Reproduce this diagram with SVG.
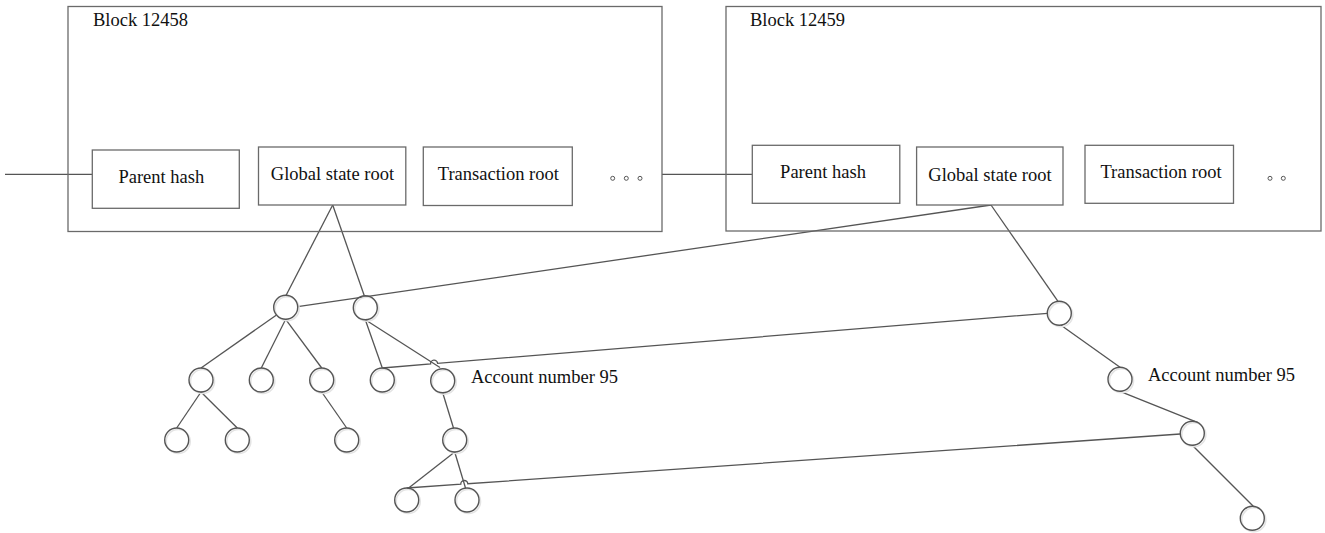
<svg xmlns="http://www.w3.org/2000/svg" width="1325" height="533" viewBox="0 0 1325 533">
  <style>
    .blk { fill: none; stroke: #6a6a6a; stroke-width: 1.3; }
    .fld { fill: #fff; stroke: #6a6a6a; stroke-width: 1.3; }
    .lbl { font-family: "Liberation Serif", "Times New Roman", serif; font-size: 18.5px; fill: #111; }
    .mid { text-anchor: middle; }
    .dot { fill: none; stroke: #555; stroke-width: 1; }
    .nd { fill: none; stroke: #555; stroke-width: 1.4; }
    .sh { fill: none; stroke: #e4e4e4; stroke-width: 1.6; }
    .cn { fill: none; stroke: #555; stroke-width: 1.3; }
  </style>

  <!-- chain links between blocks -->
  <g id="connectors">
    <line class="cn" x1="5" y1="174.3" x2="92.3" y2="174.3"/>
    <line class="cn" x1="662" y1="174.3" x2="752.3" y2="174.3"/>

    <!-- state tree of block 12458 -->
    <line class="cn" x1="332.7" y1="205" x2="286" y2="295.5"/>
    <line class="cn" x1="332.7" y1="205" x2="364.3" y2="295.7"/>
    <line class="cn" x1="276.5" y1="315" x2="201" y2="368"/>
    <line class="cn" x1="285.7" y1="319.3" x2="261.3" y2="368"/>
    <line class="cn" x1="285.7" y1="319.3" x2="321.7" y2="368"/>
    <line class="cn" x1="365.3" y1="319.7" x2="382.3" y2="368"/>
    <line class="cn" x1="365.3" y1="319.7" x2="440" y2="367.5"/>
    <line class="cn" x1="201" y1="392" x2="176.7" y2="428"/>
    <line class="cn" x1="201" y1="392" x2="237.3" y2="428"/>
    <line class="cn" x1="321.7" y1="392" x2="346.7" y2="428"/>
    <line class="cn" x1="442.7" y1="392.7" x2="453.5" y2="428"/>
    <line class="cn" x1="454.7" y1="452" x2="408" y2="488.5"/>
    <line class="cn" x1="454.7" y1="452" x2="465.5" y2="488"/>

    <!-- state tree of block 12459, sharing unchanged subtrees -->
    <line class="cn" x1="297.7" y1="306.7" x2="991" y2="205"/>
    <line class="cn" x1="991" y1="205" x2="1058" y2="301.3"/>
    <path class="cn" d="M382.3 368 L430.6 363.9 A3.5 3.5 0 0 1 437.6 363.3 L1047.5 313.3"/>
    <line class="cn" x1="1061" y1="325.3" x2="1120" y2="367.3"/>
    <line class="cn" x1="1120" y1="391.3" x2="1198" y2="422.7"/>
    <line class="cn" x1="1192.3" y1="445.3" x2="1253.3" y2="506.3"/>
    <path class="cn" d="M406.7 488 L460.8 484.24 A3.5 3.5 0 0 1 467.8 483.76 L1180.3 434"/>
  </g>

  <!-- block 12458 -->
  <g id="block-12458">
    <rect class="blk" x="68" y="6.5" width="594" height="225"/>
    <text class="lbl" x="93" y="26">Block 12458</text>
  </g>
  <g id="parent-hash-1">
    <rect class="fld" x="92.3" y="150" width="147" height="58.3"/>
    <text class="lbl mid" x="161.3" y="183">Parent hash</text>
  </g>
  <g id="global-state-root-1">
    <rect class="fld" x="258.5" y="147" width="147.3" height="58"/>
    <text class="lbl mid" x="332.5" y="180">Global state root</text>
  </g>
  <g id="transaction-root-1">
    <rect class="fld" x="423.3" y="147" width="149" height="58.5"/>
    <text class="lbl mid" x="498.3" y="180">Transaction root</text>
  </g>
  <g id="more-fields-1">
    <circle class="dot" cx="612.7" cy="178.3" r="2"/>
    <circle class="dot" cx="626.3" cy="178.3" r="2"/>
    <circle class="dot" cx="640" cy="178.3" r="2"/>
  </g>

  <!-- block 12459 -->
  <g id="block-12459">
    <rect class="blk" x="726" y="6.5" width="595" height="224.5"/>
    <text class="lbl" x="750" y="26">Block 12459</text>
  </g>
  <g id="parent-hash-2">
    <rect class="fld" x="752.3" y="145.3" width="147.5" height="58"/>
    <text class="lbl mid" x="823" y="178">Parent hash</text>
  </g>
  <g id="global-state-root-2">
    <rect class="fld" x="916.6" y="147" width="146.4" height="58"/>
    <text class="lbl mid" x="990" y="181">Global state root</text>
  </g>
  <g id="transaction-root-2">
    <rect class="fld" x="1085" y="145.3" width="148.5" height="58"/>
    <text class="lbl mid" x="1161" y="178">Transaction root</text>
  </g>
  <g id="more-fields-2">
    <circle class="dot" cx="1270" cy="178.3" r="2"/>
    <circle class="dot" cx="1283.3" cy="178.3" r="2"/>
  </g>

  <!-- tree nodes, block 12458 -->
  <g id="node-a"><circle class="sh" cx="287.2" cy="308.8" r="12"/><circle class="nd" cx="285.7" cy="307.3" r="12"/></g>
  <g id="node-b"><circle class="sh" cx="366.8" cy="309.2" r="12"/><circle class="nd" cx="365.3" cy="307.7" r="12"/></g>
  <g id="node-n1"><circle class="sh" cx="202.5" cy="381.5" r="12"/><circle class="nd" cx="201" cy="380" r="12"/></g>
  <g id="node-n2"><circle class="sh" cx="262.8" cy="381.5" r="12"/><circle class="nd" cx="261.3" cy="380" r="12"/></g>
  <g id="node-n3"><circle class="sh" cx="323.2" cy="381.5" r="12"/><circle class="nd" cx="321.7" cy="380" r="12"/></g>
  <g id="node-n4"><circle class="sh" cx="383.8" cy="381.5" r="12"/><circle class="nd" cx="382.3" cy="380" r="12"/></g>
  <g id="node-n5">
    <circle class="sh" cx="444.2" cy="382.2" r="12"/><circle class="nd" cx="442.7" cy="380.7" r="12"/>
    <text class="lbl" x="471" y="383">Account number 95</text>
  </g>
  <g id="node-m1"><circle class="sh" cx="178.2" cy="441.5" r="12"/><circle class="nd" cx="176.7" cy="440" r="12"/></g>
  <g id="node-m2"><circle class="sh" cx="238.8" cy="441.5" r="12"/><circle class="nd" cx="237.3" cy="440" r="12"/></g>
  <g id="node-m3"><circle class="sh" cx="348.2" cy="441.5" r="12"/><circle class="nd" cx="346.7" cy="440" r="12"/></g>
  <g id="node-m4"><circle class="sh" cx="456.2" cy="441.5" r="12"/><circle class="nd" cx="454.7" cy="440" r="12"/></g>
  <g id="node-k1"><circle class="sh" cx="408.2" cy="501.5" r="12"/><circle class="nd" cx="406.7" cy="500" r="12"/></g>
  <g id="node-k2"><circle class="sh" cx="468.5" cy="501.5" r="12"/><circle class="nd" cx="467" cy="500" r="12"/></g>

  <!-- tree nodes, block 12459 -->
  <g id="node-r1"><circle class="sh" cx="1060.8" cy="314.8" r="12"/><circle class="nd" cx="1059.3" cy="313.3" r="12"/></g>
  <g id="node-r2">
    <circle class="sh" cx="1121.5" cy="380.8" r="12"/><circle class="nd" cx="1120" cy="379.3" r="12"/>
    <text class="lbl" x="1148" y="381">Account number 95</text>
  </g>
  <g id="node-r3"><circle class="sh" cx="1193.8" cy="434.8" r="12"/><circle class="nd" cx="1192.3" cy="433.3" r="12"/></g>
  <g id="node-r4"><circle class="sh" cx="1253.8" cy="519.8" r="12"/><circle class="nd" cx="1252.3" cy="518.3" r="12"/></g>
</svg>
